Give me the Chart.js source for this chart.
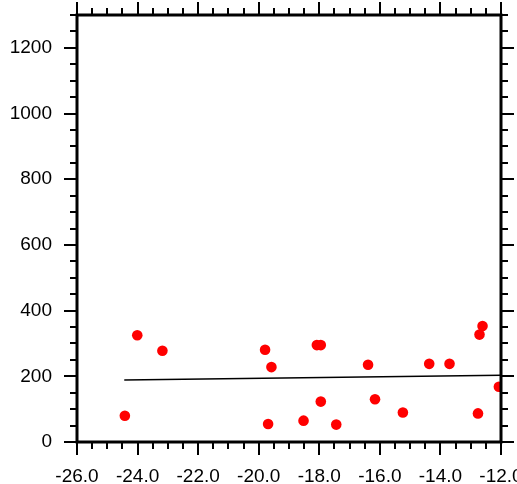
<!DOCTYPE html>
<html>
<head>
<meta charset="utf-8">
<script src="https://cdn.jsdelivr.net/npm/chart.js@4.4.0/dist/chart.umd.min.js"></script>
<style>
  html, body { margin: 0; padding: 0; background: #fff; }
</style>
</head>
<body>
<canvas id="myChart" width="517" height="484"></canvas>
<script>
// pontos vermelhos
const pontosX = [-24.42, -24.01, -23.18, -19.79, -19.58, -19.69, -18.52, -18.08, -17.95, -17.95,
                 -17.44, -16.39, -16.16, -15.24, -14.37, -13.70, -12.71, -12.61, -12.76, -12.07]
const pontosY = [80, 325, 278, 281, 228, 55, 65, 295, 295, 123,
                 53, 235, 130, 90, 238, 238, 327, 353, 87, 168]

// reta (inicio e fim)
const retaX = [-24.44, -12.0]
const retaY = [189, 203]

const ticksX = [-26, -24, -22, -20, -18, -16, -14, -12]
const ticksY = [0, 200, 400, 600, 800, 1000, 1200]
const passoMenorX = 0.5
const passoMenorY = 50

const fonte = { family: '"Liberation Sans", Arial, Helvetica, sans-serif', size: 19 }

// desenha a caixa e os ticks (maiores e menores) nos 4 lados
const caixaPlugin = {
    id: 'caixa',
    afterDraw(chart) {
        const ctx = chart.ctx
        const a = chart.chartArea
        const sx = chart.scales.x
        const sy = chart.scales.y
        ctx.save()
        ctx.strokeStyle = '#000'
        ctx.lineCap = 'butt'

        // ticks x
        ctx.lineWidth = 2
        for (let v = sx.min; v <= sx.max + 1e-9; v += passoMenorX) {
            const px = Math.round(sx.getPixelForValue(v))
            const major = ticksX.some(t => Math.abs(t - v) < 1e-6)
            const len = major ? 13 : 7
            ctx.beginPath()
            ctx.moveTo(px, a.bottom); ctx.lineTo(px, a.bottom + len)
            ctx.moveTo(px, a.top); ctx.lineTo(px, a.top - len)
            ctx.stroke()
        }
        // ticks y
        for (let v = sy.min; v <= sy.max + 1e-9; v += passoMenorY) {
            const py = Math.round(sy.getPixelForValue(v))
            const major = ticksY.includes(v)
            const len = major ? 13 : 7
            ctx.beginPath()
            ctx.moveTo(a.left, py); ctx.lineTo(a.left - len, py)
            ctx.moveTo(a.right, py); ctx.lineTo(a.right + len, py)
            ctx.stroke()
        }

        ctx.lineWidth = 3
        ctx.strokeRect(a.left, a.top, a.right - a.left, a.bottom - a.top)
        ctx.restore()
    }
}

const ctx = document.getElementById('myChart')

const data = {
    datasets: [
        {
            type: 'scatter',
            data: pontosX.map((x, i) => ({ x: x, y: pontosY[i] })),
            backgroundColor: '#ff0000',
            borderColor: '#ff0000',
            pointRadius: 5.3,
            pointBorderWidth: 0
        },
        {
            type: 'line',
            data: retaX.map((x, i) => ({ x: x, y: retaY[i] })),
            borderColor: '#000',
            borderWidth: 1.5,
            pointRadius: 0,
            fill: false
        }
    ]
}

const config = {
    type: 'scatter',
    data,
    options: {
        responsive: false,
        animation: false,
        layout: { padding: { left: 0, right: 16, top: 15, bottom: 0 } },
        plugins: { legend: { display: false }, tooltip: { enabled: false } },
        scales: {
            x: {
                type: 'linear',
                min: -26,
                max: -12,
                grid: { display: false, drawTicks: false },
                border: { display: false },
                afterBuildTicks: s => { s.ticks = ticksX.map(v => ({ value: v })) },
                afterFit: s => { s.height = 42; s.paddingLeft = 0; s.paddingRight = 0 },
                ticks: {
                    color: '#000',
                    font: fonte,
                    padding: 23,
                    maxRotation: 0,
                    autoSkip: false,
                    callback: v => v.toFixed(1)
                }
            },
            y: {
                type: 'linear',
                min: 0,
                max: 1300,
                grid: { display: false, drawTicks: false },
                border: { display: false },
                afterBuildTicks: s => { s.ticks = ticksY.map(v => ({ value: v })) },
                afterFit: s => { s.width = 77; s.paddingTop = 0; s.paddingBottom = 0 },
                ticks: {
                    color: '#000',
                    font: fonte,
                    padding: 25,
                    autoSkip: false,
                    callback: v => String(v)
                }
            }
        }
    },
    plugins: [caixaPlugin]
}

const myChart = new Chart(ctx, config)
</script>
</body>
</html>
